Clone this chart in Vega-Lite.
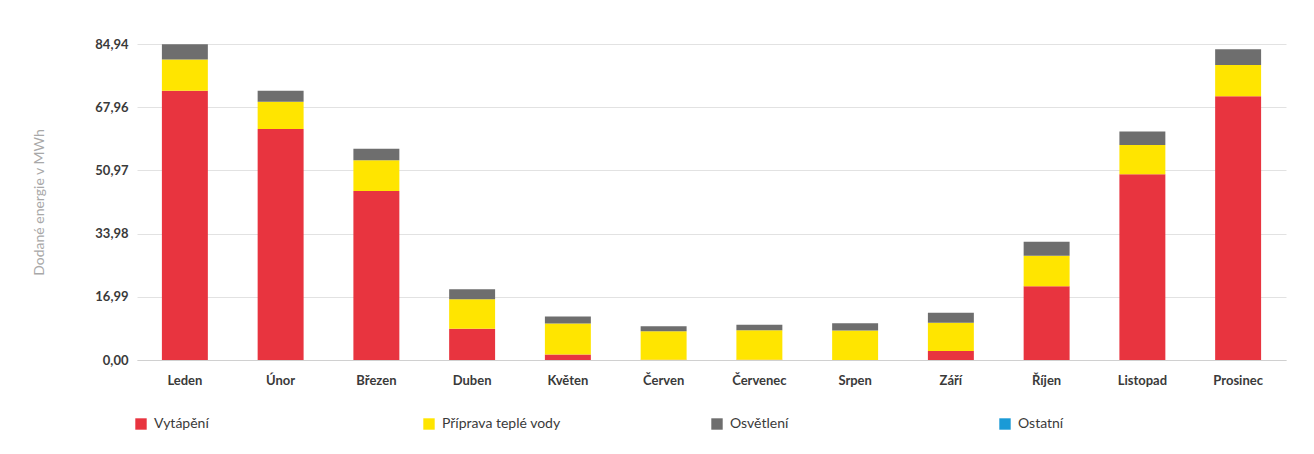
{
  "$schema": "https://vega.github.io/schema/vega-lite/v6.json",
  "autosize": {"type": "none"},
  "width": 1149,
  "height": 316,
  "padding": {"left": 137, "top": 44, "right": 28, "bottom": 94},
  "background": "white",
  "data": {
    "values": [
      {"mesic": "Leden", "kategorie": "Vytápění", "poradi": 1, "hodnota": 72.4},
      {"mesic": "Leden", "kategorie": "Příprava teplé vody", "poradi": 2, "hodnota": 8.4},
      {"mesic": "Leden", "kategorie": "Osvětlení", "poradi": 3, "hodnota": 4.1},
      {"mesic": "Leden", "kategorie": "Ostatní", "poradi": 4, "hodnota": 0},
      {"mesic": "Únor", "kategorie": "Vytápění", "poradi": 1, "hodnota": 62.1},
      {"mesic": "Únor", "kategorie": "Příprava teplé vody", "poradi": 2, "hodnota": 7.3},
      {"mesic": "Únor", "kategorie": "Osvětlení", "poradi": 3, "hodnota": 3.0},
      {"mesic": "Únor", "kategorie": "Ostatní", "poradi": 4, "hodnota": 0},
      {"mesic": "Březen", "kategorie": "Vytápění", "poradi": 1, "hodnota": 45.4},
      {"mesic": "Březen", "kategorie": "Příprava teplé vody", "poradi": 2, "hodnota": 8.3},
      {"mesic": "Březen", "kategorie": "Osvětlení", "poradi": 3, "hodnota": 3.1},
      {"mesic": "Březen", "kategorie": "Ostatní", "poradi": 4, "hodnota": 0},
      {"mesic": "Duben", "kategorie": "Vytápění", "poradi": 1, "hodnota": 8.4},
      {"mesic": "Duben", "kategorie": "Příprava teplé vody", "poradi": 2, "hodnota": 7.9},
      {"mesic": "Duben", "kategorie": "Osvětlení", "poradi": 3, "hodnota": 2.7},
      {"mesic": "Duben", "kategorie": "Ostatní", "poradi": 4, "hodnota": 0},
      {"mesic": "Květen", "kategorie": "Vytápění", "poradi": 1, "hodnota": 1.5},
      {"mesic": "Květen", "kategorie": "Příprava teplé vody", "poradi": 2, "hodnota": 8.3},
      {"mesic": "Květen", "kategorie": "Osvětlení", "poradi": 3, "hodnota": 1.9},
      {"mesic": "Květen", "kategorie": "Ostatní", "poradi": 4, "hodnota": 0},
      {"mesic": "Červen", "kategorie": "Vytápění", "poradi": 1, "hodnota": 0.1},
      {"mesic": "Červen", "kategorie": "Příprava teplé vody", "poradi": 2, "hodnota": 7.6},
      {"mesic": "Červen", "kategorie": "Osvětlení", "poradi": 3, "hodnota": 1.4},
      {"mesic": "Červen", "kategorie": "Ostatní", "poradi": 4, "hodnota": 0},
      {"mesic": "Červenec", "kategorie": "Vytápění", "poradi": 1, "hodnota": 0.1},
      {"mesic": "Červenec", "kategorie": "Příprava teplé vody", "poradi": 2, "hodnota": 7.9},
      {"mesic": "Červenec", "kategorie": "Osvětlení", "poradi": 3, "hodnota": 1.5},
      {"mesic": "Červenec", "kategorie": "Ostatní", "poradi": 4, "hodnota": 0},
      {"mesic": "Srpen", "kategorie": "Vytápění", "poradi": 1, "hodnota": 0.0},
      {"mesic": "Srpen", "kategorie": "Příprava teplé vody", "poradi": 2, "hodnota": 7.9},
      {"mesic": "Srpen", "kategorie": "Osvětlení", "poradi": 3, "hodnota": 2.0},
      {"mesic": "Srpen", "kategorie": "Ostatní", "poradi": 4, "hodnota": 0},
      {"mesic": "Září", "kategorie": "Vytápění", "poradi": 1, "hodnota": 2.4},
      {"mesic": "Září", "kategorie": "Příprava teplé vody", "poradi": 2, "hodnota": 7.6},
      {"mesic": "Září", "kategorie": "Osvětlení", "poradi": 3, "hodnota": 2.7},
      {"mesic": "Září", "kategorie": "Ostatní", "poradi": 4, "hodnota": 0},
      {"mesic": "Říjen", "kategorie": "Vytápění", "poradi": 1, "hodnota": 19.8},
      {"mesic": "Říjen", "kategorie": "Příprava teplé vody", "poradi": 2, "hodnota": 8.2},
      {"mesic": "Říjen", "kategorie": "Osvětlení", "poradi": 3, "hodnota": 3.8},
      {"mesic": "Říjen", "kategorie": "Ostatní", "poradi": 4, "hodnota": 0},
      {"mesic": "Listopad", "kategorie": "Vytápění", "poradi": 1, "hodnota": 49.9},
      {"mesic": "Listopad", "kategorie": "Příprava teplé vody", "poradi": 2, "hodnota": 7.9},
      {"mesic": "Listopad", "kategorie": "Osvětlení", "poradi": 3, "hodnota": 3.6},
      {"mesic": "Listopad", "kategorie": "Ostatní", "poradi": 4, "hodnota": 0},
      {"mesic": "Prosinec", "kategorie": "Vytápění", "poradi": 1, "hodnota": 70.9},
      {"mesic": "Prosinec", "kategorie": "Příprava teplé vody", "poradi": 2, "hodnota": 8.4},
      {"mesic": "Prosinec", "kategorie": "Osvětlení", "poradi": 3, "hodnota": 4.2},
      {"mesic": "Prosinec", "kategorie": "Ostatní", "poradi": 4, "hodnota": 0}
    ]
  },
  "mark": {"type": "bar"},
  "encoding": {
    "x": {
      "field": "mesic",
      "type": "nominal",
      "sort": ["Leden", "Únor", "Březen", "Duben", "Květen", "Červen", "Červenec", "Srpen", "Září", "Říjen", "Listopad", "Prosinec"],
      "scale": {"paddingInner": 0.52, "paddingOuter": 0.26},
      "axis": {
        "title": null,
        "labelAngle": 0,
        "labelFont": "Lato",
        "labelFontSize": 13,
        "labelFontWeight": "bold",
        "labelColor": "#3a3a3a",
        "labelPadding": 14,
        "ticks": false,
        "domainColor": "#d0d0d0",
        "grid": false
      }
    },
    "y": {
      "field": "hodnota",
      "type": "quantitative",
      "stack": "zero",
      "scale": {"domain": [0, 84.94], "nice": false, "zero": true},
      "axis": {
        "title": "Dodané energie v MWh",
        "titleFont": "Lato",
        "titleFontSize": 14,
        "titleFontWeight": "normal",
        "titleColor": "#a8a8a8",
        "titlePadding": 48,
        "values": [0, 16.99, 33.98, 50.97, 67.96, 84.94],
        "labelExpr": "replace(format(datum.value, '.2f'), '.', ',')",
        "labelFont": "Lato",
        "labelFontSize": 13,
        "labelFontWeight": "bold",
        "labelColor": "#3a3a3a",
        "labelPadding": 9,
        "ticks": false,
        "domain": false,
        "grid": true,
        "gridColor": "#e2e2e2",
        "gridWidth": 1
      }
    },
    "color": {
      "field": "kategorie",
      "type": "nominal",
      "scale": {
        "domain": ["Vytápění", "Příprava teplé vody", "Osvětlení", "Ostatní"],
        "range": ["#e8343f", "#ffe500", "#6e6e6e", "#1a9ad6"]
      },
      "legend": {
        "title": null,
        "orient": "none",
        "legendX": -3,
        "legendY": 373,
        "direction": "horizontal",
        "columns": 4,
        "gridAlign": "all",
        "columnPadding": 149,
        "symbolType": "square",
        "symbolSize": 130,
        "symbolStrokeWidth": 0,
        "labelFont": "Lato",
        "labelFontSize": 14,
        "labelColor": "#3a3a3a",
        "labelLimit": 250,
        "labelOffset": 6
      }
    },
    "order": {"field": "poradi", "type": "quantitative"}
  },
  "config": {
    "view": {"stroke": null}
  }
}
